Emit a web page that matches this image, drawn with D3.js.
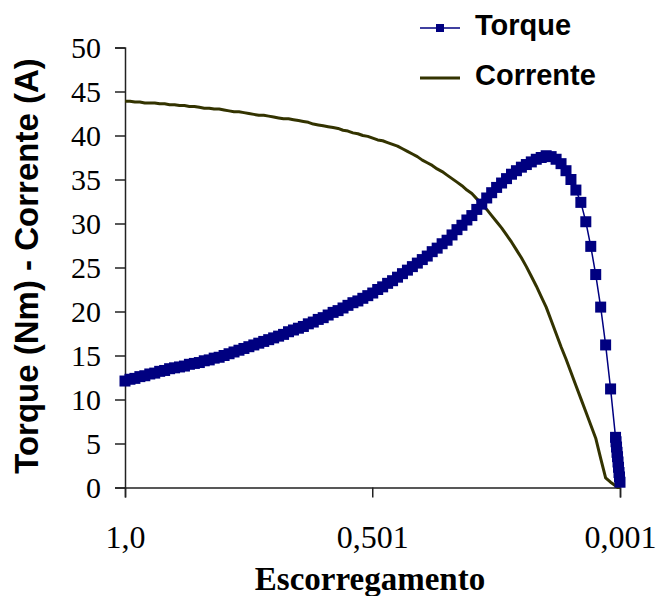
<!DOCTYPE html>
<html>
<head>
<meta charset="utf-8">
<script src="https://cdn.jsdelivr.net/npm/d3@7"></script>
<style>
  body { margin: 0; background: #fff; }
  #chart svg { display: block; }
</style>
</head>
<body>
<div id="chart"></div>
<script>
// escorregamento (slip), read from left to right
const slip = [
    1.00, 0.99, 0.98, 0.97, 0.96, 0.95, 0.94, 0.93, 0.92, 0.91,
    0.90, 0.89, 0.88, 0.87, 0.86, 0.85, 0.84, 0.83, 0.82, 0.81,
    0.80, 0.79, 0.78, 0.77, 0.76, 0.75, 0.74, 0.73, 0.72, 0.71,
    0.70, 0.69, 0.68, 0.67, 0.66, 0.65, 0.64, 0.63, 0.62, 0.61,
    0.60, 0.59, 0.58, 0.57, 0.56, 0.55, 0.54, 0.53, 0.52, 0.51,
    0.50, 0.49, 0.48, 0.47, 0.46, 0.45, 0.44, 0.43, 0.42, 0.41,
    0.40, 0.39, 0.38, 0.37, 0.36, 0.35, 0.34, 0.33, 0.32, 0.31,
    0.30, 0.29, 0.28, 0.27, 0.26, 0.25, 0.24, 0.23, 0.22, 0.21,
    0.20, 0.19, 0.18, 0.17, 0.16, 0.15, 0.14, 0.13, 0.12, 0.11,
    0.10, 0.09, 0.08, 0.07, 0.06, 0.05, 0.04, 0.03, 0.02, 0.01,
    0.009, 0.008, 0.007, 0.006, 0.005, 0.004, 0.003, 0.002, 0.001
];

const torque = [
    12.1, 12.3, 12.4, 12.6, 12.7, 12.9, 13.0, 13.2, 13.3, 13.5,
    13.6, 13.7, 13.8, 14.0, 14.1, 14.2, 14.4, 14.5, 14.7, 14.8,
    15.0, 15.2, 15.4, 15.6, 15.8, 16.0, 16.2, 16.4, 16.6, 16.8,
    17.0, 17.2, 17.4, 17.7, 17.9, 18.1, 18.3, 18.6, 18.8, 19.1,
    19.3, 19.6, 19.9, 20.1, 20.4, 20.7, 21.0, 21.2, 21.5, 21.8,
    22.1, 22.5, 22.8, 23.2, 23.5, 23.9, 24.3, 24.7, 25.1, 25.5,
    25.9, 26.3, 26.8, 27.2, 27.7, 28.1, 28.7, 29.3, 29.8, 30.4,
    30.9, 31.6, 32.2, 32.9, 33.5, 34.1, 34.6, 35.1, 35.6, 36.0,
    36.4, 36.7, 37.0, 37.3, 37.5, 37.7, 37.6, 37.3, 36.8, 36.0,
    35.0, 33.8, 32.4, 30.2, 27.4, 24.2, 20.5, 16.2, 11.2, 5.7,
    5.2, 4.6, 4.0, 3.5, 2.9, 2.3, 1.7, 1.2, 0.6
];

const corrente = [
    43.9, 43.9, 43.8, 43.8, 43.7, 43.7, 43.7, 43.6, 43.6, 43.5,
    43.5, 43.4, 43.4, 43.3, 43.3, 43.2, 43.1, 43.1, 43.0, 43.0,
    42.9, 42.8, 42.7, 42.7, 42.6, 42.5, 42.4, 42.3, 42.3, 42.2,
    42.1, 42.0, 41.9, 41.9, 41.8, 41.7, 41.6, 41.5, 41.3, 41.2,
    41.1, 41.0, 40.9, 40.8, 40.6, 40.5, 40.3, 40.2, 40.0, 39.9,
    39.7, 39.5, 39.4, 39.2, 39.0, 38.8, 38.5, 38.2, 37.9, 37.6,
    37.2, 36.9, 36.6, 36.2, 35.9, 35.5, 35.1, 34.7, 34.3, 33.8,
    33.4, 32.8, 32.2, 31.6, 30.9, 30.2, 29.5, 28.7, 27.9, 27.0,
    26.1, 25.1, 24.0, 22.9, 21.7, 20.5, 19.0, 17.5, 16.0, 14.6,
    13.1, 11.6, 10.1, 8.6, 7.1, 5.6, 3.3, 1.1, 0.6, 0.2,
    0.1, 0.1, 0.1, 0.0, 0.0, 0.0, 0.0, 0.0, 0.0
];

const xTicks = [1.0, 0.501, 0.001];
const xTickLabels = ["1,0", "0,501", "0,001"];
const yTicks = [0, 5, 10, 15, 20, 25, 30, 35, 40, 45, 50];

const seriesNames = ["Torque", "Corrente"];

class TorqueChart {
    constructor(){
        this.width = 657;
        this.height = 596;

        this.left = 125;
        this.right = 620;
        this.top = 47.5;
        this.bottom = 487.5;

        this.svg;
        this.xScale;
        this.yScale;

        this.torqueColor = "#000080";
        this.correnteColor = "#333300";
        this.axisColor = "#222";
        this.serif = "'Liberation Serif', 'Times New Roman', serif";
        this.sans = "'Liberation Sans', Arial, sans-serif";
    }

    initScales(){
        this.xScale = d3.scaleLinear().domain([1.0, 0.001]).range([this.left, this.right]);
        this.yScale = d3.scaleLinear().domain([0, 50]).range([this.bottom, this.top]);
    }

    init(){
        this.initScales();
        this.svg = d3.select("#chart")
                    .append("svg")
                    .attr("width", this.width)
                    .attr("height", this.height);
    }

    drawAxes(){
        const yAxis = d3.axisLeft(this.yScale)
            .tickValues(yTicks)
            .tickSize(10)
            .tickPadding(14)
            .tickFormat(d => d);

        const gy = this.svg.append("g")
            .attr("transform", "translate(" + this.left + ",0)")
            .call(yAxis)
            .attr("font-family", this.serif)
            .attr("font-size", 30);

        const xAxis = d3.axisBottom(this.xScale)
            .tickValues(xTicks)
            .tickSize(10)
            .tickPadding(28)
            .tickFormat((d, i) => xTickLabels[i]);

        const gx = this.svg.append("g")
            .attr("transform", "translate(0," + this.bottom + ")")
            .call(xAxis)
            .attr("font-family", this.serif)
            .attr("font-size", 32);

        [gx, gy].forEach(g => {
            g.select(".domain").attr("stroke", this.axisColor).attr("stroke-width", 1.5);
            g.selectAll(".tick line").attr("stroke", this.axisColor).attr("stroke-width", 1.5);
            g.selectAll(".tick text").attr("fill", "#000");
        });

        // axis titles
        this.svg.append("text")
            .attr("transform", "translate(38,266) rotate(-90)")
            .attr("text-anchor", "middle")
            .attr("font-family", this.sans)
            .attr("font-weight", "bold")
            .attr("font-size", 33)
            .text("Torque (Nm) - Corrente (A)");

        this.svg.append("text")
            .attr("x", 370)
            .attr("y", 590)
            .attr("text-anchor", "middle")
            .attr("font-family", this.serif)
            .attr("font-weight", "bold")
            .attr("font-size", 33)
            .text("Escorregamento");
    }

    drawSeries(){
        const points = slip.map((s, i) => ({ s: s, t: torque[i], c: corrente[i] }));

        const correnteLine = d3.line()
            .x(d => this.xScale(d.s))
            .y(d => this.yScale(d.c));

        const torqueLine = d3.line()
            .x(d => this.xScale(d.s))
            .y(d => this.yScale(d.t));

        this.svg.append("path")
            .datum(points)
            .attr("fill", "none")
            .attr("stroke", this.correnteColor)
            .attr("stroke-width", 3)
            .attr("stroke-linejoin", "round")
            .attr("d", correnteLine);

        this.svg.append("path")
            .datum(points)
            .attr("fill", "none")
            .attr("stroke", this.torqueColor)
            .attr("stroke-width", 1.5)
            .attr("d", torqueLine);

        const m = 11;
        this.svg.append("g")
            .selectAll("rect")
            .data(points)
            .enter()
            .append("rect")
            .attr("x", d => this.xScale(d.s) - m / 2)
            .attr("y", d => this.yScale(d.t) - m / 2)
            .attr("width", m)
            .attr("height", m)
            .attr("fill", this.torqueColor);
    }

    drawLegend(){
        const rows = [
            { name: seriesNames[0], color: this.torqueColor, y: 28, width: 1.5, marker: true },
            { name: seriesNames[1], color: this.correnteColor, y: 78, width: 3, marker: false }
        ];
        const g = this.svg.append("g");
        rows.forEach(r => {
            g.append("line")
                .attr("x1", 420).attr("x2", 460)
                .attr("y1", r.y).attr("y2", r.y)
                .attr("stroke", r.color)
                .attr("stroke-width", r.width);
            if (r.marker) {
                g.append("rect")
                    .attr("x", 436).attr("y", r.y - 4)
                    .attr("width", 8).attr("height", 8)
                    .attr("fill", r.color);
            }
            g.append("text")
                .attr("x", 475)
                .attr("y", r.y + 7)
                .attr("font-family", this.sans)
                .attr("font-weight", "bold")
                .attr("font-size", 29)
                .text(r.name);
        });
    }

    draw(){
        this.drawAxes();
        this.drawSeries();
        this.drawLegend();
    }
}

const chart = new TorqueChart();
chart.init();
chart.draw();
</script>
</body>
</html>
